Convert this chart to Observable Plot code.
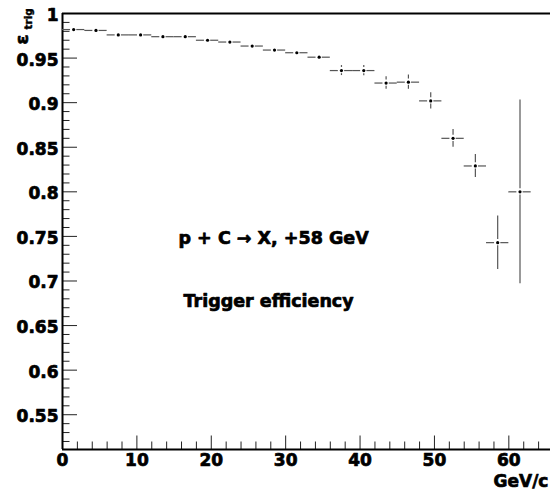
<!DOCTYPE html>
<html><head><meta charset="utf-8">
<script src="https://cdn.jsdelivr.net/npm/d3@7"></script>
<script src="https://cdn.jsdelivr.net/npm/@observablehq/plot@0.6"></script>
<style>body{margin:0;background:#fff}</style>
</head><body><div id="chart"></div>
<script>
// ---- data ----
const binCenters = [1.5, 4.5, 7.5, 10.5, 13.5, 16.5, 19.5, 22.5, 25.5, 28.5, 31.5, 34.5, 37.5, 40.5, 43.5, 46.5, 49.5, 52.5, 55.5, 58.5, 61.5];
const efficiency = [0.982, 0.981, 0.976, 0.976, 0.974, 0.974, 0.970, 0.968, 0.9635, 0.959, 0.956, 0.951, 0.936, 0.936, 0.922, 0.923, 0.902, 0.860, 0.829, 0.743, 0.800];
const errors     = [0.001, 0.0012, 0.0015, 0.0015, 0.0018, 0.002, 0.002, 0.0025, 0.003, 0.003, 0.0035, 0.004, 0.0056, 0.0058, 0.007, 0.008, 0.009, 0.010, 0.013, 0.030, 0.103];
const binHalfWidth = 1.5;
const yTickLabels = [0.55, 0.6, 0.65, 0.7, 0.75, 0.8, 0.85, 0.9, 0.95, 1];
const xTickLabels = [0, 10, 20, 30, 40, 50, 60];
const yTitle = "ε";
const yTitleSub = "trig";
const xTitle = "GeV/c";
const annotation1 = "p + C → X, +58 GeV";
const annotation2 = "Trigger efficiency";

// ---- layout ----
const W = 550, H = 493, mL = 62, mT = 13, mB = 44, mR = 0;
const plotW = W - mL - mR, plotH = H - mT - mB;
const yDomain = [0.511, 1.0];
const xDomain = [0, 65.6];

const rows = binCenters.map((x, i) => ({x, y: efficiency[i], e: errors[i]}));
const gapX = 0.42, gapY = 0.0035;
const yMinor = d3.range(52, 100).filter(v => v % 5 !== 0).map(v => v / 100);
const xMinor = d3.range(2, 66, 2).filter(v => v % 10 !== 0);
const vert = rows.filter(d => d.e > gapY + 0.0005);
const barColor = "#555";
const font = 17;
const txt = {fontWeight: "bold", fill: "black", stroke: "black", strokeWidth: 0.7, paintOrder: "stroke"};

const chart = Plot.plot({
  width: W, height: H,
  marginLeft: mL, marginRight: mR, marginTop: mT, marginBottom: mB,
  x: {domain: xDomain, axis: null},
  y: {domain: yDomain, axis: null},
  style: {fontFamily: "DejaVu Sans", fontWeight: "bold", background: "white", color: "black"},
  marks: [
    // ticks
    Plot.tickY(yTickLabels, {y: d => d, insetRight: plotW - 15, stroke: "#222", strokeWidth: 1}),
    Plot.tickY(yMinor, {y: d => d, insetRight: plotW - 7.5, stroke: "#222", strokeWidth: 1}),
    Plot.tickX(xTickLabels, {x: d => d, insetTop: plotH - 13.5, stroke: "#222", strokeWidth: 1}),
    Plot.tickX(xMinor, {x: d => d, insetTop: plotH - 7.5, stroke: "#222", strokeWidth: 1}),
    // tick labels
    Plot.text(yTickLabels, {x: xDomain[0], y: d => d, text: d => String(d), textAnchor: "end", dx: -4, dy: 2, fontSize: font, ...txt}),
    Plot.text(xTickLabels, {x: d => d, y: yDomain[0], text: d => String(d), lineAnchor: "top", dy: 4, fontSize: font, ...txt}),
    // frame
    Plot.ruleX([0], {stroke: "black", strokeWidth: 2}),
    Plot.ruleY([yDomain[1], yDomain[0]], {stroke: "black", strokeWidth: 2}),
    // error bars
    Plot.ruleY(rows, {y: "y", x1: d => d.x - binHalfWidth, x2: d => d.x - gapX, stroke: barColor, strokeWidth: 1.2}),
    Plot.ruleY(rows, {y: "y", x1: d => d.x + gapX, x2: d => d.x + binHalfWidth, stroke: barColor, strokeWidth: 1.2}),
    Plot.ruleX(vert, {x: "x", y1: d => d.y + d.e, y2: d => d.y + gapY, stroke: barColor, strokeWidth: 1.2}),
    Plot.ruleX(vert, {x: "x", y1: d => d.y - gapY, y2: d => d.y - d.e, stroke: barColor, strokeWidth: 1.2}),
    Plot.dot(rows, {x: "x", y: "y", r: 1.6, fill: "black", stroke: null}),
    // titles
    Plot.text([yTitle], {frameAnchor: "top-left", dx: 15 - mL, dy: 44 - mT, rotate: -90, fontSize: 18, ...txt}),
    Plot.text([yTitleSub], {frameAnchor: "top-left", dx: 24 - mL, dy: 29 - mT, rotate: -90, fontSize: 10.5, ...txt, strokeWidth: 0.4}),
    Plot.text([xTitle], {frameAnchor: "bottom-left", dx: 493 - mL, dy: 486 - (H - mB), textAnchor: "start", fontSize: font, ...txt}),
    Plot.text([annotation1], {frameAnchor: "top-left", dx: 178 - mL, dy: 231 - mT, textAnchor: "start", fontSize: 17.5, ...txt}),
    Plot.text([annotation2], {frameAnchor: "top-left", dx: 183 - mL, dy: 294 - mT, textAnchor: "start", fontSize: 17.5, ...txt})
  ]
});
document.getElementById("chart").appendChild(chart);
</script>
</body></html>
